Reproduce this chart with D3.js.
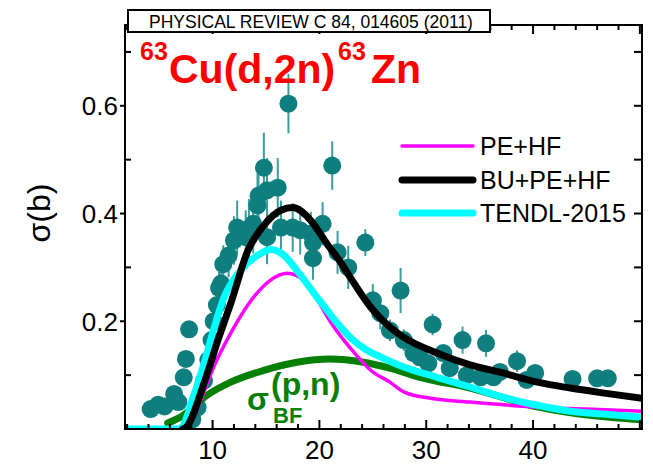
<!DOCTYPE html>
<html><head><meta charset="utf-8">
<script src="https://cdn.jsdelivr.net/npm/d3@7"></script>
<style>body{margin:0;background:#fff;}svg{display:block;font-family:Arial,"Liberation Sans",sans-serif;}</style>
</head><body><svg id="c" width="653" height="469"></svg>
<script>
// ---- data ----
const expE   = [4.2,4.9,5.5,6.4,6.8,7.3,7.5,7.8,8.1,8.6,9.2,9.6,9.9,10.1,10.4,10.6,10.8,11.0,11.5,12.0,12.3,13.1,13.4,13.8,14.2,14.3,14.8,15.1,15.1,16.1,16.4,17.1,17.5,18.2,19.2,19.4,19.4,20.3,21.2,21.7,22.7,24.3,25.0,25.7,26.6,27.6,27.9,28.8,29.4,30.2,30.6,31.6,32.2,33.4,33.8,35.1,35.6,36.3,36.9,38.5,39.4,40.2,43.7,46.0,47.0];
const expSig = [0.037,0.045,0.042,0.065,0.050,0.096,0.130,0.185,0.018,0.040,0.090,0.128,0.165,0.200,0.230,0.262,0.270,0.306,0.322,0.350,0.374,0.356,0.372,0.381,0.415,0.433,0.485,0.443,0.356,0.448,0.374,0.604,0.374,0.369,0.363,0.317,0.346,0.381,0.489,0.328,0.300,0.346,0.239,0.215,0.183,0.257,0.165,0.141,0.133,0.122,0.194,0.141,0.113,0.165,0.100,0.096,0.159,0.096,0.106,0.126,0.091,0.104,0.093,0.094,0.094];
const expErr = [0.010,0.010,0.010,0.012,0.010,0.012,0.012,0.015,0.008,0.010,0.015,0.015,0.020,0.020,0.025,0.030,0.030,0.035,0.040,0.045,0.050,0.050,0.055,0.055,0.060,0.060,0.065,0.060,0.050,0.055,0.050,0.055,0.045,0.045,0.040,0.040,0.040,0.040,0.045,0.040,0.040,0.025,0.030,0.030,0.020,0.042,0.020,0.015,0.015,0.015,0.020,0.015,0.012,0.025,0.010,0.010,0.025,0.010,0.010,0.020,0.010,0.010,0.008,0.008,0.008];

const peE   = [7.5,7.8,8.9,10.1,11.7,13.4,15.4,17.0,18.5,19.8,21.0,23.6,24.8,26.6,27.9,30.4,34.1,40.0,45.0,50.2];
const peSig = [0,0.005,0.054,0.115,0.178,0.233,0.276,0.289,0.276,0.24,0.200,0.134,0.109,0.087,0.069,0.057,0.050,0.041,0.037,0.033];

const buE   = [7.2,7.5,9.2,10.5,11.7,13.3,14.8,16.4,17.5,19.2,20.7,22.0,22.9,24.8,26.6,27.9,31.0,34.1,37.2,40.4,43.5,46.5,50.2];
const buSig = [0,0.003,0.085,0.165,0.233,0.331,0.378,0.406,0.411,0.387,0.344,0.309,0.281,0.226,0.189,0.170,0.141,0.119,0.104,0.087,0.076,0.067,0.057];

const tenE   = [1.8,6.8,7.2,8.1,9.1,10.0,11.0,12.6,14.2,15.5,16.7,17.9,19.8,21.7,23.0,24.3,25.7,27.9,31.0,34.1,37.2,40.4,43.5,46.5,50.2];
const tenSig = [0,0,0.005,0.054,0.115,0.178,0.241,0.294,0.322,0.333,0.322,0.294,0.244,0.196,0.168,0.148,0.134,0.115,0.096,0.078,0.059,0.044,0.033,0.028,0.022];

const bfE   = [5.8,7.0,9.5,11.7,14.8,17.9,21.0,24.1,26.6,29.4,34.1,40.4,50.2];
const bfSig = [0.011,0.022,0.063,0.087,0.109,0.124,0.130,0.124,0.113,0.096,0.076,0.041,0.017];

const xTicks = [10,20,30,40];
const yTicks = [0.2,0.4,0.6];
const legendLabels = ["PE+HF","BU+PE+HF","TENDL-2015"];

// ---- drawing ----
const svg = d3.select("#c");
const L=125,R=642,T=25,B=429;
const x = d3.scaleLinear().domain([1.8,50.2]).range([L,R]);
const y = d3.scaleLinear().domain([0,0.75]).range([B,T]);

const plot = svg.append("g");
svg.append("clipPath").attr("id","cp").append("rect")
  .attr("x",L).attr("y",T).attr("width",R-L).attr("height",B-T);
const inner = plot.append("g").attr("clip-path","url(#cp)");

// error bars
inner.selectAll("line.err").data(expE).enter().append("line")
  .attr("x1",(d)=>x(d)).attr("x2",(d)=>x(d))
  .attr("y1",(d,i)=>y(expSig[i]-expErr[i])).attr("y2",(d,i)=>y(expSig[i]+expErr[i]))
  .attr("stroke","#3d9c9c").attr("stroke-width",2);
// points
inner.selectAll("circle").data(expE).enter().append("circle")
  .attr("cx",(d)=>x(d)).attr("cy",(d,i)=>y(expSig[i])).attr("r",9)
  .attr("fill","#0f7e7e");

const line = d3.line().curve(d3.curveMonotoneX);
function curve(E,S,color,w){
  inner.append("path").attr("d",line(E.map((e,i)=>[x(e),y(S[i])])))
    .attr("fill","none").attr("stroke",color).attr("stroke-width",w)
    .attr("stroke-linejoin","round").attr("stroke-linecap","round");
}
curve(bfE,bfSig,"#058005",7);
curve(peE,peSig,"#ff00ff",3.5);
curve(tenE,tenSig,"#00ffff",7);
curve(buE,buSig,"#000000",7);

// frame
const ax = svg.append("g").attr("stroke","#000").attr("stroke-width",2);
ax.append("rect").attr("x",L).attr("y",T).attr("width",R-L).attr("height",B-T).attr("fill","none");
// x ticks (every 2, major every 10)
d3.range(2,51,2).forEach(v=>{
  const major = v%10===0;
  const len = major?9:5;
  ax.append("line").attr("x1",x(v)).attr("x2",x(v)).attr("y1",B).attr("y2",B-len);
  ax.append("line").attr("x1",x(v)).attr("x2",x(v)).attr("y1",T).attr("y2",T+len);
});
// y ticks every 0.1
d3.range(1,8).forEach(k=>{
  const v=k/10; const major=(k%2===0);
  ax.append("line").attr("x1",L-(major?5:0)).attr("x2",L+(major?0:6)).attr("y1",y(v)).attr("y2",y(v));
  ax.append("line").attr("x1",R).attr("x2",R-8).attr("y1",y(v)).attr("y2",y(v));
});

svg.append("g").selectAll("text").data(xTicks).enter().append("text")
  .attr("x",d=>x(d)).attr("y",459).attr("text-anchor","middle")
  .attr("font-size",26).text(d=>d);
svg.append("g").selectAll("text").data(yTicks).enter().append("text")
  .attr("x",118).attr("y",d=>y(d)+9.5).attr("text-anchor","end")
  .attr("font-size",26).text(d=>d3.format(".1f")(d));

svg.append("text").attr("transform","translate(50,213) rotate(-90)")
  .attr("text-anchor","middle").attr("font-size",32).text("σ(b)");

// journal box
svg.append("rect").attr("x",128).attr("y",10).attr("width",362).attr("height",22)
  .attr("fill","#fff").attr("stroke","#000").attr("stroke-width",2);
svg.append("text").attr("x",311).attr("y",28).attr("text-anchor","middle")
  .attr("font-size",17.5).text("PHYSICAL REVIEW C 84, 014605 (2011)");

// title
const tg = svg.append("g").attr("fill","#ff0000").attr("font-weight","bold");
tg.append("text").attr("x",140).attr("y",60).attr("font-size",25).text("63");
tg.append("text").attr("x",169).attr("y",83).attr("font-size",41).text("Cu(d,2n)");
tg.append("text").attr("x",338).attr("y",60).attr("font-size",25).text("63");
tg.append("text").attr("x",371).attr("y",83).attr("font-size",41).text("Zn");

// sigma BF label
const gg = svg.append("g").attr("fill","#058005").attr("font-weight","bold");
gg.append("text").attr("x",247).attr("y",410).attr("font-size",32).text("σ");
gg.append("text").attr("x",273).attr("y",423).attr("font-size",22).text("BF");
gg.append("text").attr("x",271).attr("y",395).attr("font-size",32).text("(p,n)");

// legend
const legColors = ["#ff00ff","#000000","#00ffff"];
const legW = [3.5,7,7];
const legY = [146,180,213];
legendLabels.forEach((t,i)=>{
  svg.append("line").attr("x1",402).attr("x2",473).attr("y1",legY[i]).attr("y2",legY[i])
    .attr("stroke",legColors[i]).attr("stroke-width",legW[i]).attr("stroke-linecap","round");
  svg.append("text").attr("x",480).attr("y",legY[i]+9).attr("font-size",25).text(t);
});
</script></body></html>
